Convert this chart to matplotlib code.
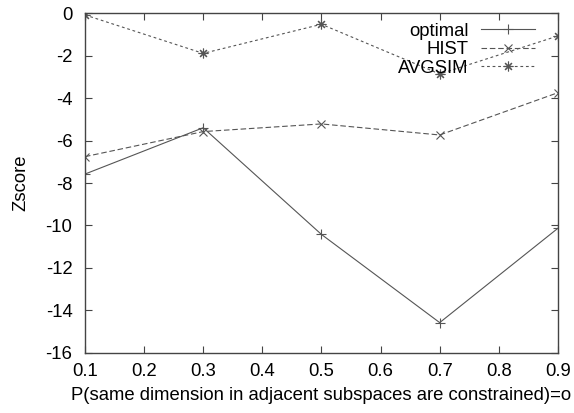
import matplotlib
matplotlib.use('Agg')
import matplotlib.pyplot as plt

plt.rcParams['font.family'] = ['Liberation Sans', 'DejaVu Sans']

x = [0.1, 0.3, 0.5, 0.7, 0.9]
optimal = [-7.58, -5.40, -10.42, -14.57, -10.13]
hist = [-6.76, -5.58, -5.22, -5.74, -3.75]
avgsim = [-0.09, -1.90, -0.53, -2.87, -1.08]

xticks = [0.1, 0.2, 0.3, 0.4, 0.5, 0.6, 0.7, 0.8, 0.9]
yticks = [0, -2, -4, -6, -8, -10, -12, -14, -16]

gray = '#555555'
fs = 13.3

fig = plt.figure(figsize=(5.74, 4.13), dpi=100)
ax = fig.add_axes([0.148, 0.1453, 0.824, 0.8232])

ax.plot(x, optimal, color=gray, lw=0.8, marker='+', ms=7, mew=0.8, label='optimal')
ax.plot(x, hist, color=gray, lw=0.8, dashes=(5, 2.5), marker='x', ms=6, mew=0.8, label='HIST')
ax.plot(x, avgsim, color=gray, lw=0.8, dashes=(2.5, 2.5), marker=(8, 2, 0), ms=7, mew=0.8, label='AVGSIM')

ax.set_xlim(0.1, 0.9)
ax.set_ylim(-16, 0)
ax.set_xticks(xticks)
ax.set_xticklabels(['%.1f' % t for t in xticks])
ax.set_yticks(yticks)
ax.set_yticklabels([str(t) for t in yticks])
ax.tick_params(direction='in', top=True, right=True, length=5, width=0.8,
               color='#444444', labelsize=fs)
ax.tick_params(axis='x', pad=7)
ax.tick_params(axis='y', pad=9)
for s in ax.spines.values():
    s.set_color('#444444')
    s.set_linewidth(1.0)

ax.set_xlabel('P(same dimension in adjacent subspaces are constrained)=o', fontsize=fs, labelpad=5)
ax.set_ylabel('Zscore', fontsize=fs, labelpad=12)

ax.legend(loc='upper right', bbox_to_anchor=(0.932, 0.945), bbox_transform=fig.transFigure,
          frameon=False, markerfirst=False, fontsize=fs, handlelength=2.9,
          handletextpad=0.7, labelspacing=0.08, borderpad=0, borderaxespad=0)

fig.savefig('out.png', dpi=100)
